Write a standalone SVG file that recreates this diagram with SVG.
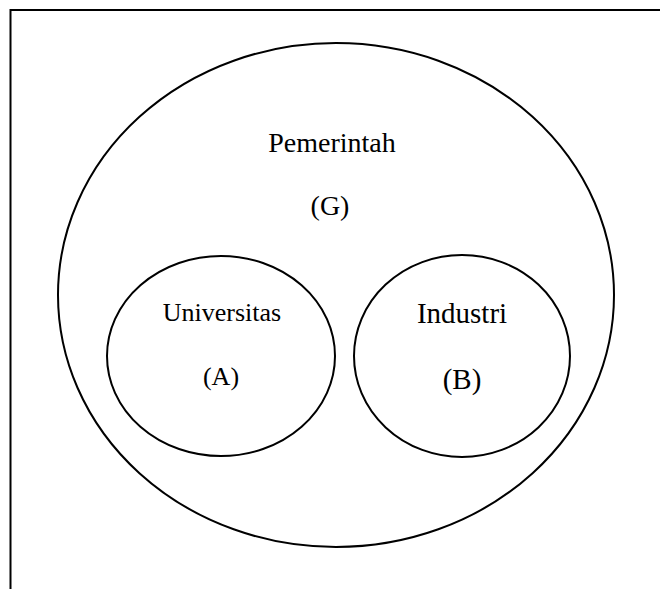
<svg xmlns="http://www.w3.org/2000/svg" width="660" height="589" viewBox="0 0 660 589">
<style>
.sh{fill:none;stroke:#000;stroke-width:2}
.t{font-family:"Liberation Serif","Times New Roman",serif;fill:#000;text-anchor:middle}
</style>
<rect x="0" y="0" width="660" height="589" fill="#fff"/>
<rect x="10.5" y="10" width="700" height="700" class="sh"/>
<g id="G">
<ellipse cx="336" cy="295" rx="278" ry="252" class="sh"/>
<text x="332" y="152" class="t" font-size="28">Pemerintah</text>
<text x="330" y="215" class="t" font-size="28">(G)</text>
</g>
<g id="A">
<ellipse cx="221" cy="356" rx="114" ry="100" class="sh"/>
<text x="222" y="321" class="t" font-size="26">Universitas</text>
<text x="221" y="385" class="t" font-size="26">(A)</text>
</g>
<g id="B">
<ellipse cx="462" cy="356" rx="108" ry="101" class="sh"/>
<text x="462" y="323" class="t" font-size="29">Industri</text>
<text x="462" y="389" class="t" font-size="29">(B)</text>
</g>
<g id="connectors"></g>
</svg>
